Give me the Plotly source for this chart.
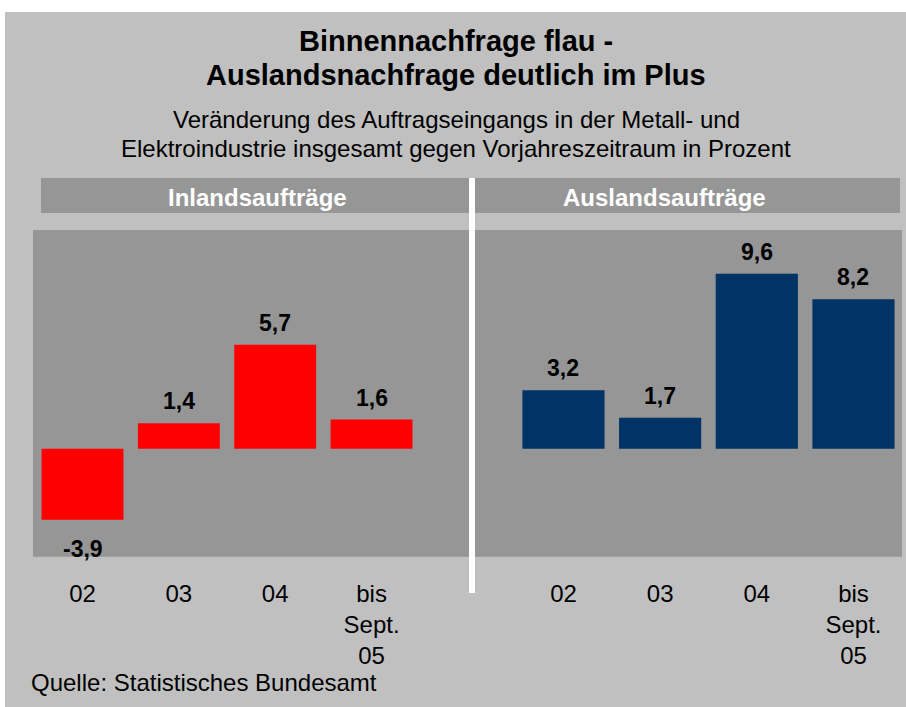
import plotly.graph_objects as go

# ---- data ----
categories = ["02", "03", "04", "bis<br>Sept.<br>05"]
inland_values = [-3.9, 1.4, 5.7, 1.6]
ausland_values = [3.2, 1.7, 9.6, 8.2]
panel_titles = ["Inlandsaufträge", "Auslandsaufträge"]
title_lines = ["Binnennachfrage flau -", "Auslandsnachfrage deutlich im Plus"]
subtitle_lines = ["Veränderung des Auftragseingangs in der Metall- und",
                  "Elektroindustrie insgesamt gegen Vorjahreszeitraum in Prozent"]
source_text = "Quelle: Statistisches Bundesamt"

W, H = 906, 707
FONT = "Liberation Sans, Arial, sans-serif"
BG = "#c0c0c0"
PANEL = "#969696"
RED = "#ff0000"
NAVY = "#003366"


def fx(p):
    return p / W


def fy(p):
    return 1 - p / H


def fmt(v):
    return f"{v:.1f}".replace(".", ",")


idx = list(range(len(categories)))

fig = go.Figure()
fig.add_trace(go.Bar(x=idx, y=inland_values, marker=dict(color=RED, line=dict(width=0)),
                     xaxis="x", yaxis="y", hoverinfo="skip"))
fig.add_trace(go.Bar(x=idx, y=ausland_values, marker=dict(color=NAVY, line=dict(width=0)),
                     xaxis="x2", yaxis="y2", hoverinfo="skip"))

yr = [-5.93, 12]
ydom = [fy(556.7), fy(230)]
common_x = dict(type="linear", showgrid=False, zeroline=False, showline=False,
                tickmode="array", tickvals=idx, ticktext=categories,
                ticks="outside", ticklen=15, tickcolor="rgba(0,0,0,0)",
                tickfont=dict(family=FONT, size=24, color="black"), fixedrange=True)
common_y = dict(range=yr, domain=ydom, showgrid=False, zeroline=False, showline=False,
                showticklabels=False, ticks="", fixedrange=True)

fig.update_layout(
    width=W, height=H, autosize=False,
    margin=dict(l=0, r=0, t=0, b=0, pad=0),
    paper_bgcolor="white", plot_bgcolor="rgba(0,0,0,0)",
    showlegend=False, bargap=0.15,
    font=dict(family=FONT, color="black"),
    xaxis=dict(domain=[fx(33), fx(470)], range=[-0.514, 4.022], anchor="y", **common_x),
    yaxis=dict(anchor="x", **common_y),
    xaxis2=dict(domain=[fx(470), fx(902)], range=[-0.967, 3.502], anchor="y2", **common_x),
    yaxis2=dict(anchor="x2", **common_y),
)

shapes = [
    # page background
    dict(type="rect", xref="paper", yref="paper", x0=fx(5), x1=1, y0=0, y1=fy(12),
         fillcolor=BG, line=dict(width=0), layer="below"),
    # header bars
    dict(type="rect", xref="paper", yref="paper", x0=fx(41), x1=fx(470), y0=fy(213), y1=fy(178),
         fillcolor=PANEL, line=dict(width=0), layer="below"),
    dict(type="rect", xref="paper", yref="paper", x0=fx(474), x1=fx(900), y0=fy(213), y1=fy(178),
         fillcolor=PANEL, line=dict(width=0), layer="below"),
    # plot areas
    dict(type="rect", xref="x domain", yref="y domain", x0=0, x1=1, y0=0, y1=1,
         fillcolor=PANEL, line=dict(width=0), layer="below"),
    dict(type="rect", xref="x2 domain", yref="y2 domain", x0=0, x1=1, y0=0, y1=1,
         fillcolor=PANEL, line=dict(width=0), layer="below"),
    # white divider
    dict(type="rect", xref="paper", yref="paper", x0=fx(469), x1=fx(475), y0=fy(593), y1=fy(178),
         fillcolor="white", line=dict(width=0), layer="above"),
]
fig.update_layout(shapes=shapes)

ann = []
# titles
for txt, yc in zip(title_lines, [41.5, 74.5]):
    ann.append(dict(text=f"<b>{txt}</b>", x=fx(456), y=fy(yc), xref="paper", yref="paper",
                    xanchor="center", yanchor="middle", showarrow=False,
                    font=dict(family=FONT, size=29, color="black")))
for txt, yc in zip(subtitle_lines, [119.5, 148.5]):
    ann.append(dict(text=txt, x=fx(456), y=fy(yc), xref="paper", yref="paper",
                    xanchor="center", yanchor="middle", showarrow=False,
                    font=dict(family=FONT, size=24, color="black")))
# panel headers
for txt, xc in zip(panel_titles, [257, 664]):
    ann.append(dict(text=f"<b>{txt}</b>", x=fx(xc), y=fy(197.5), xref="paper", yref="paper",
                    xanchor="center", yanchor="middle", showarrow=False,
                    font=dict(family=FONT, size=24, color="white")))
# value labels
for vals, xr, yrf in [(inland_values, "x", "y"), (ausland_values, "x2", "y2")]:
    for i, v in zip(idx, vals):
        ann.append(dict(text=f"<b>{fmt(v)}</b>", x=i, y=v, xref=xr, yref=yrf,
                        xanchor="center", yanchor="middle", showarrow=False,
                        yshift=22 if v >= 0 else -29,
                        font=dict(family=FONT, size=23, color="black")))
# source
ann.append(dict(text=source_text, x=fx(29), y=fy(682), xref="paper", yref="paper",
                xanchor="left", yanchor="middle", showarrow=False,
                font=dict(family=FONT, size=24, color="black")))
fig.update_layout(annotations=ann)

fig.write_html("out.html", config={"displayModeBar": False},
               post_script="document.body.style.margin='0';document.body.style.overflow='hidden';")
